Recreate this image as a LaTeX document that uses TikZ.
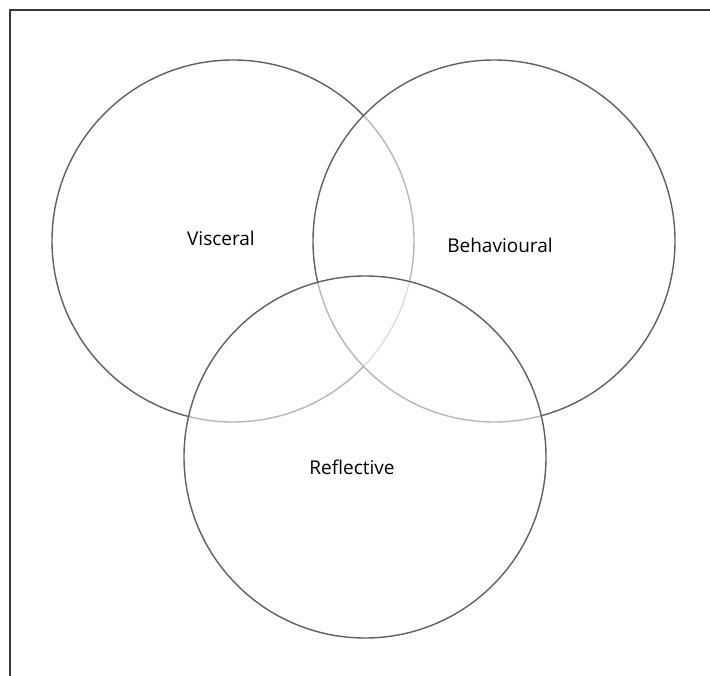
\documentclass[tikz,border=0pt]{standalone}
\usepackage{fontspec}
\setmainfont{Open Sans}
\begin{document}
\begin{tikzpicture}[x=1pt,y=-1pt,
  frameline/.style={draw=black!78, line width=2.6pt},
  ring/.style={circle, draw=black!62, line width=1.4pt, fill=white, fill opacity=0.55, minimum size=362pt, inner sep=0pt},
  lbl/.style={font=\fontsize{19}{23}\selectfont, text=black, text opacity=1}]
  \useasboundingbox (0,0) rectangle (710,676);
  \fill[white] (0,0) rectangle (710,676);
  % frame, open on the right and at the bottom
  \coordinate (ftr) at (712,10);
  \coordinate (ftl) at (10,10);
  \coordinate (fbl) at (10,678);
  \draw[frameline] (fbl) -- (ftl) -- (ftr);
  % the three overlapping circles
  \node[ring] (visc) at (233,241) {};
  \node[ring] (behav) at (494,241) {};
  \node[ring] (refl) at (365,457) {};
  % labels
  \node[lbl] (tv) at (221,238) {Visceral};
  \node[lbl] (tb) at (500,245) {Behavioural};
  \node[lbl] (tr) at (352,467) {Reflective};
\end{tikzpicture}
\end{document}
